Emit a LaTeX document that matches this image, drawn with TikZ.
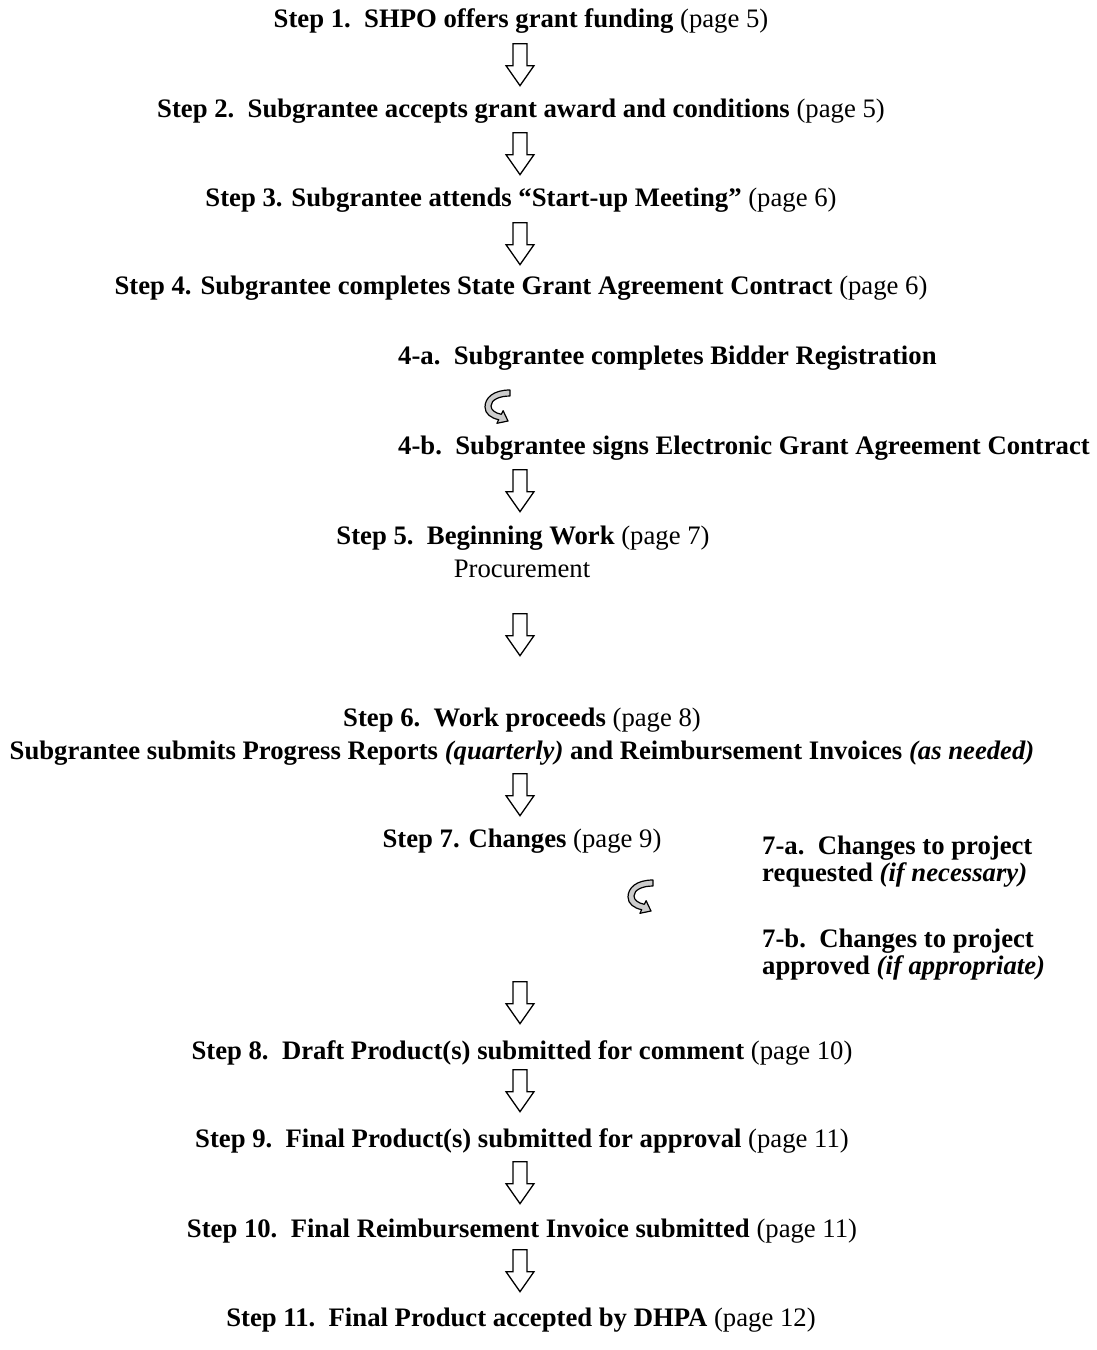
\documentclass[tikz,border=0pt]{standalone}
\usepackage{fontspec}
\setmainfont{Liberation Serif}
\usetikzlibrary{shapes.arrows}
\begin{document}
\begin{tikzpicture}[x=1pt,y=-1pt,
  lbl/.style={anchor=base, inner sep=0pt, font=\fontsize{26.7}{30}\selectfont\bfseries},
  lblw/.style={lbl, anchor=base west},
  blockarr/.style={shape=single arrow, draw=black, line width=1.3pt, fill=white,
    rotate=-90, anchor=tail, inner xsep=0pt, inner ysep=6.3pt,
    single arrow head extend=7pt, single arrow tip angle=70,
    minimum height=42pt, single arrow head indent=0pt},
  curvarr/.pic={\draw[fill=gray!40, line width=1.2pt, line join=round]
    (25,0) .. controls (8,0) and (0,8) .. (0,17)
    .. controls (0,24) and (6,28) .. (13.7,29.7) -- (11.9,33.3) -- (23,31)
    -- (18.1,20.7) -- (16.3,24.3) .. controls (10,23) and (6,20) .. (6,16)
    .. controls (6,10) and (14,6) .. (25,6) -- cycle;}
]
\path[use as bounding box, fill=white] (0,0) rectangle (1096,1350);

\node[lbl] (s1) at (521,27) {Step 1.~~SHPO offers grant funding \textmd{(page 5)}};
\node[blockarr] (a1) at (520,43) {};
\node[lbl] (s2) at (521,117) {Step 2.~~Subgrantee accepts grant award and conditions \textmd{(page 5)}};
\node[blockarr] (a2) at (520,132) {};
\node[lbl] (s3) at (521,206) {Step 3. Subgrantee attends “Start-up Meeting” \textmd{(page 6)}};
\node[blockarr] (a3) at (520,222) {};
\node[lbl] (s4) at (521,294) {Step 4. Subgrantee completes State Grant Agreement Contract \textmd{(page 6)}};

\node[lblw] (s4a) at (398,364) {4-a.~~Subgrantee completes Bidder Registration};
\pic at (485,390) {curvarr};
\node[lblw] (s4b) at (398,454) {4-b.~~Subgrantee signs Electronic Grant Agreement Contract};
\node[blockarr] (a4) at (520,469) {};

\node[lbl] (s5) at (523,544) {Step 5.~~Beginning Work \textmd{(page 7)}};
\node[lbl, font=\fontsize{26.7}{30}\selectfont] (proc) at (522,577) {Procurement};
\node[blockarr] (a5) at (520,613) {};

\node[lbl] (s6) at (522,726) {Step 6.~~Work proceeds \textmd{(page 8)}};
\node[lbl] (s6b) at (522,759) {Subgrantee submits Progress Reports \textit{(quarterly)} and Reimbursement Invoices \textit{(as needed)}};
\node[blockarr] (a6) at (520,773) {};

\node[lbl] (s7) at (522,847) {Step 7. Changes \textmd{(page 9)}};
\node[lblw] (s7a1) at (762,854) {7-a.~~Changes to project};
\node[lblw] (s7a2) at (762,881) {requested \textit{(if necessary)}};
\pic at (628,880) {curvarr};
\node[lblw] (s7b1) at (762,947) {7-b.~~Changes to project};
\node[lblw] (s7b2) at (762,974) {approved \textit{(if appropriate)}};
\node[blockarr] (a7) at (520,981) {};

\node[lbl] (s8) at (522,1059) {Step 8.~~Draft Product(s) submitted for comment \textmd{(page 10)}};
\node[blockarr] (a8) at (520,1069) {};
\node[lbl] (s9) at (522,1147) {Step 9.~~Final Product(s) submitted for approval \textmd{(page 11)}};
\node[blockarr] (a9) at (520,1161) {};
\node[lbl] (s10) at (522,1237) {Step 10.~~Final Reimbursement Invoice submitted \textmd{(page 11)}};
\node[blockarr] (a10) at (520,1249) {};
\node[lbl] (s11) at (521,1326) {Step 11.~~Final Product accepted by DHPA \textmd{(page 12)}};
\end{tikzpicture}
\end{document}
